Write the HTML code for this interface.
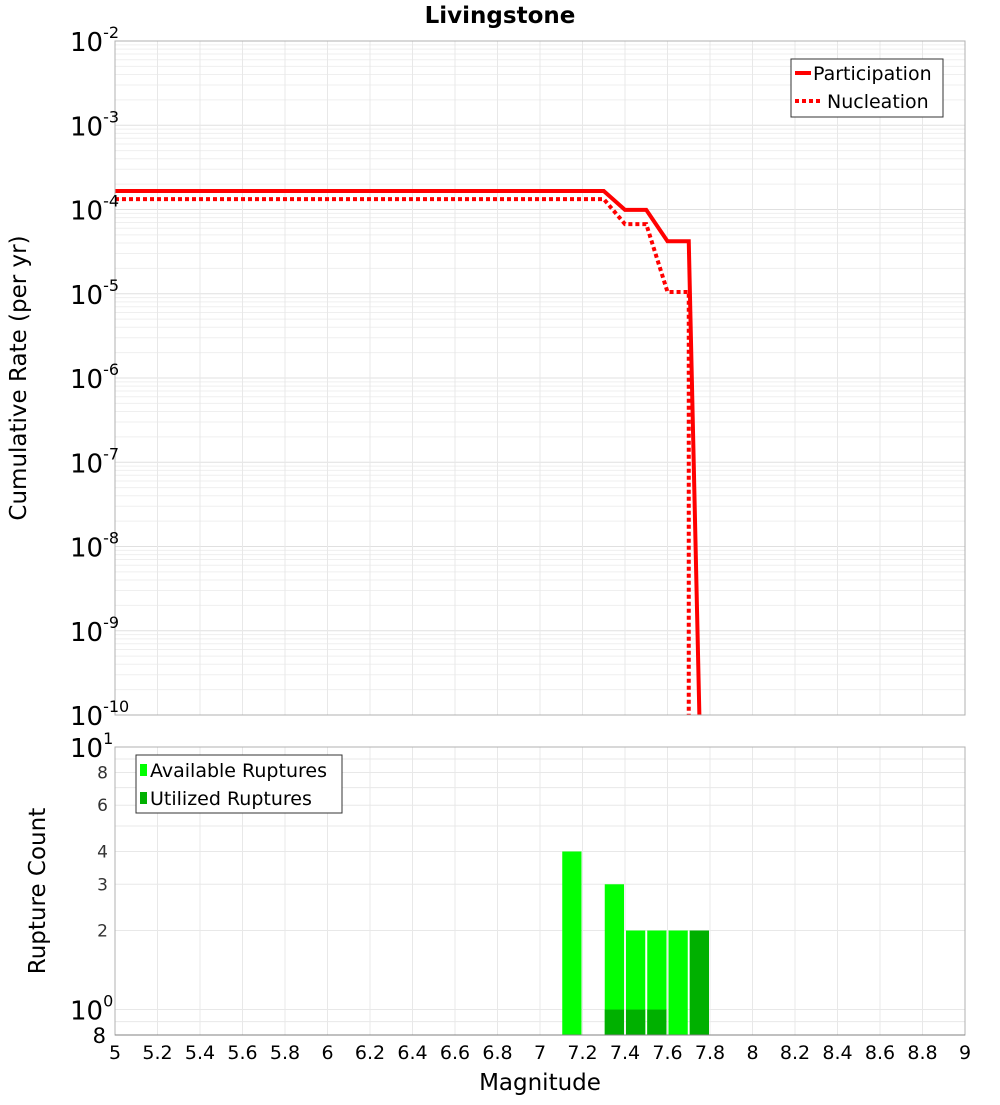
<!DOCTYPE html>
<html><head><meta charset="utf-8"><style>
body{margin:0;background:#fff;font-family:"Liberation Sans","DejaVu Sans",sans-serif}
svg text{font-family:"DejaVu Sans","Liberation Sans",sans-serif}
</style></head><body>
<svg id="c" width="1000" height="1100" xmlns="http://www.w3.org/2000/svg">
<g id="g"></g>
</svg>
<script>
const mags=[5,7.3,7.4,7.5,7.6,7.7,7.75];
const partRates=[1.66e-4,1.66e-4,9.9e-5,9.9e-5,4.2e-5,4.2e-5,1e-11];
const nuclMags=[5,7.3,7.4,7.5,7.6,7.7,7.7];
const nuclRates=[1.33e-4,1.33e-4,6.7e-5,6.7e-5,1.05e-5,1.05e-5,1e-11];
const binStarts=[7.1,7.3,7.4,7.5,7.6,7.7];
const available=[4,3,2,2,2,2];
const utilized=[0,1,1,1,0,2];
const xTicks=[5,5.2,5.4,5.6,5.8,6,6.2,6.4,6.6,6.8,7,7.2,7.4,7.6,7.8,8,8.2,8.4,8.6,8.8,9];
const topExp=[-2,-3,-4,-5,-6,-7,-8,-9,-10];
const botTicks=[2,3,4,6,8];

const NS='http://www.w3.org/2000/svg',G=document.getElementById('g');
function el(t,a,txt){const e=document.createElementNS(NS,t);for(const k in a)e.setAttribute(k,a[k]);if(txt!==undefined)e.textContent=txt;G.appendChild(e);return e;}
const X0=115,X1=965;
const x=m=>X0+(m-5)/4*(X1-X0);
const T0=41,T1=715;
const yT=v=>T0+(-2-Math.log10(v))/8*(T1-T0);
const B0=747,B1=1035,bmin=Math.log10(0.8);
const yB=v=>B0+(1-Math.log10(v))/(1-bmin)*(B1-B0);

let r=el('rect',{x:X0,y:T0,width:X1-X0,height:T1-T0,fill:'#fff',stroke:'none'});

for(let d=-10;d<-2;d++)for(let k=1;k<10;k++){const yy=yT(k*Math.pow(10,d));
 let l=el('line',{x1:X0,x2:X1,y1:yy,y2:yy,stroke:k==1?'#e0e0e0':'#efefef','stroke-width':1});
 }
xTicks.forEach(t=>{let l=el('line',{x1:x(t),x2:x(t),y1:T0,y2:T1,stroke:'#e8e8e8'});
 });
for(let v of [0.8,0.9,1,2,3,4,5,6,7,8,9,10]){let l=el('line',{x1:X0,x2:X1,y1:yB(v),y2:yB(v),stroke:'#e8e8e8'});
 }
xTicks.forEach(t=>{let l=el('line',{x1:x(t),x2:x(t),y1:B0,y2:B1,stroke:'#e8e8e8'});
 });

function pl(ms,vs,dash,name){let pts=ms.map((m,i)=>x(m)+','+Math.min(yT(vs[i]),T1)).join(' ');
 let p=el('polyline',{points:pts,fill:'none',stroke:'#ff0000','stroke-width':4,'stroke-dasharray':dash});
 }
pl(nuclMags,nuclRates,'4 3','nucleation-line');
pl(mags,partRates,'none','participation-line');

binStarts.forEach((b,i)=>{const xa=x(b)+1,w=x(b+0.1)-x(b)-2;
 let a=el('rect',{x:xa,y:yB(available[i]),width:w,height:B1-yB(available[i]),fill:'#00ff00'});
 
 if(utilized[i]>0){let u=el('rect',{x:xa,y:yB(utilized[i]),width:w,height:B1-yB(utilized[i]),fill:'#00b000'});
 }
});

el('rect',{x:X0,y:T0,width:X1-X0,height:T1-T0,fill:'none',stroke:'#b0b0b0'});
el('rect',{x:X0,y:B0,width:X1-X0,height:B1-B0,fill:'none',stroke:'#b0b0b0'});
el('line',{x1:X0,x2:X1,y1:B1,y2:B1,stroke:'#808080'});

topExp.forEach(e=>{let t=el('text',{x:70,y:yT(Math.pow(10,e))+10,'font-size':26,fill:'#000'});
 
 t.innerHTML='10<tspan dy="-13" font-size="16">'+e+'</tspan>';});
[[10,'1'],[1,'0']].forEach(([v,s])=>{let t=el('text',{x:70,y:yB(v)+10,'font-size':26,fill:'#000'});
 
 t.innerHTML='10<tspan dy="-13" font-size="16">'+s+'</tspan>';});
botTicks.forEach(v=>{let t=el('text',{x:108,y:yB(v)+6,'font-size':17,'text-anchor':'end',fill:'#333'},String(v));
 });
let t8=el('text',{x:106,y:1043,'font-size':21,'text-anchor':'end'},'8');


xTicks.forEach(v=>{let t=el('text',{x:x(v),y:1059,'font-size':19,'text-anchor':'middle'},String(v));
 });

let tt=el('text',{x:500,y:23,'font-size':23,'font-weight':'bold','text-anchor':'middle'},'Livingstone');

let xt=el('text',{x:540,y:1090,'font-size':23,'text-anchor':'middle'},'Magnitude');

let y1=el('text',{x:0,y:0,'font-size':23,'text-anchor':'middle',transform:'translate(26,378) rotate(-90)'},'Cumulative Rate (per yr)');

let y2=el('text',{x:0,y:0,'font-size':23,'text-anchor':'middle',transform:'translate(45,891) rotate(-90)'},'Rupture Count');


let lg=el('rect',{x:791,y:59,width:152,height:58,fill:'#fff',stroke:'#333'});

el('line',{x1:795,x2:811,y1:73,y2:73,stroke:'#f00','stroke-width':4});
el('line',{x1:795,x2:822,y1:101,y2:101,stroke:'#f00','stroke-width':4,'stroke-dasharray':'4 3'});
let l1=el('text',{x:813,y:80,'font-size':19},'Participation');
let l2=el('text',{x:827,y:108,'font-size':19},'Nucleation');
let lb=el('rect',{x:136,y:755,width:206,height:58,fill:'#fff',stroke:'#333'});

el('rect',{x:140,y:764,width:7,height:12,fill:'#00ff00'});
el('rect',{x:140,y:792,width:7,height:12,fill:'#00b000'});
let l3=el('text',{x:150,y:777,'font-size':19},'Available Ruptures');
let l4=el('text',{x:150,y:805,'font-size':19},'Utilized Ruptures');
</script>
</body></html>
